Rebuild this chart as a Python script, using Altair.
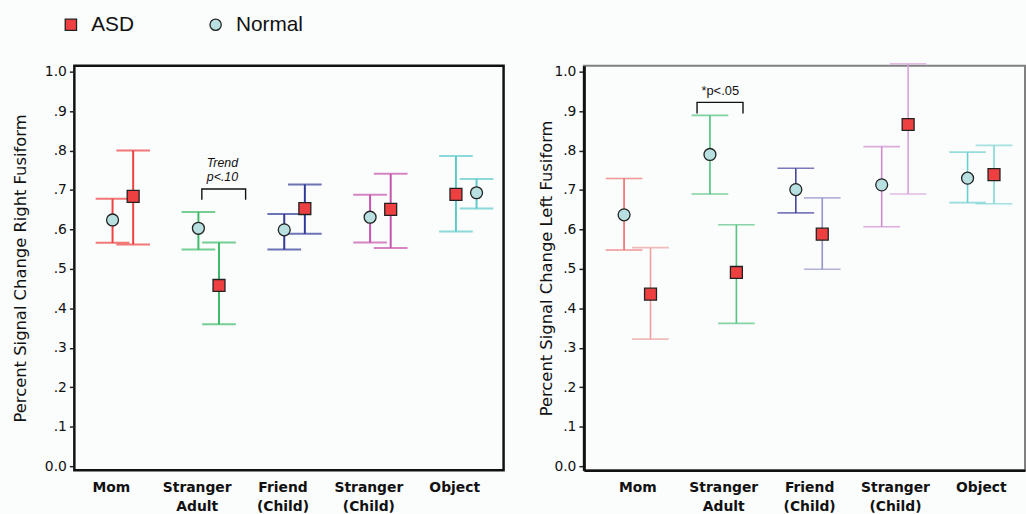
import json
import altair as alt
import pandas as pd

# ---------------- data ----------------
categories = ["Mom", "Stranger Adult", "Friend (Child)", "Stranger (Child)", "Object"]
groups = ["ASD", "Normal"]

# Right fusiform (left panel)
rf_normal_mean = [0.624, 0.603, 0.599, 0.631, 0.693]
rf_normal_hi = [0.678, 0.644, 0.639, 0.688, 0.728]
rf_normal_lo = [0.566, 0.549, 0.549, 0.567, 0.653]
rf_asd_mean = [0.684, 0.458, 0.653, 0.651, 0.689]
rf_asd_hi = [0.800, 0.567, 0.714, 0.741, 0.786]
rf_asd_lo = [0.562, 0.360, 0.589, 0.553, 0.595]
rf_first = ["Normal", "Normal", "Normal", "Normal", "ASD"]

# Left fusiform (right panel)
lf_normal_mean = [0.637, 0.790, 0.701, 0.713, 0.730]
lf_normal_hi = [0.729, 0.889, 0.755, 0.810, 0.796]
lf_normal_lo = [0.548, 0.690, 0.642, 0.607, 0.668]
lf_asd_mean = [0.436, 0.491, 0.588, 0.866, 0.739]
lf_asd_hi = [0.554, 0.612, 0.680, 1.020, 0.813]
lf_asd_lo = [0.322, 0.362, 0.499, 0.690, 0.665]
lf_first = ["Normal", "Normal", "Normal", "Normal", "Normal"]

y_ticks = [0.0, 0.1, 0.2, 0.3, 0.4, 0.5, 0.6, 0.7, 0.8, 0.9, 1.0]

# ---------------- styles ----------------
rf_colors_normal = ["#ee4040", "#3dba6a", "#2f3a98", "#c653ad", "#5ccaca"]
rf_colors_asd = ["#ee4040", "#3dba6a", "#2f3a98", "#c653ad", "#5ccaca"]
lf_colors_normal = ["#ec6a6a", "#4cbf7a", "#44449f", "#cf8acf", "#6ccfcf"]
lf_colors_asd = ["#eca0a0", "#55c383", "#9494c8", "#d8a0d8", "#80d6d6"]

BG = "#fbfcfc"
FONT = "DejaVu Sans"


def build_df(nm, nh, nl, am, ah, al, first, off1, off2, cn, ca):
    rows = []
    for i, cat in enumerate(categories):
        for g, m, h, l, c in (("Normal", nm[i], nh[i], nl[i], cn[i]),
                              ("ASD", am[i], ah[i], al[i], ca[i])):
            off = off1 if g == first[i] else off2
            rows.append(dict(cat=cat, group=g, mean=m, hi=h, lo=l,
                             xpos=i + off, color=c))
    return pd.DataFrame(rows)


rf_df = build_df(rf_normal_mean, rf_normal_hi, rf_normal_lo,
                 rf_asd_mean, rf_asd_hi, rf_asd_lo, rf_first,
                 0.02, 0.26, rf_colors_normal, rf_colors_asd)
lf_df = build_df(lf_normal_mean, lf_normal_hi, lf_normal_lo,
                 lf_asd_mean, lf_asd_hi, lf_asd_lo, lf_first,
                 -0.155, 0.153, lf_colors_normal, lf_colors_asd)

# annotations (category index, bracket span offsets, y levels, text)
rf_ann = dict(idx=1, x0=0.06, x1=0.57, ytop=0.7025, ybot=0.675,
              text="Trend\np<.10", tx=0.30, ty=0.769, italic=True, size=12.5)
lf_ann = dict(idx=1, x0=-0.305, x1=0.23, ytop=0.922, ybot=0.894,
              text="*p<.05", tx=-0.035, ty=0.95, italic=False, size=13)

label_lists = json.dumps([c.split(" ") for c in categories]).replace('"', "'")
x_label_expr = f"{label_lists}[round(datum.value)]"
y_label_expr = ("datum.value < 0.05 ? '0.0' : datum.value > 0.95 ? '1.0' : "
                "'.' + round(datum.value * 10)")

YDOM = [-0.01, 1.015]


def panel(df, ann, title, xdom, width, height, cap, lw, extent, ydomain_line):
    xs = alt.Scale(domain=xdom, nice=False, zero=False)
    ys = alt.Scale(domain=YDOM, nice=False, zero=False)
    xaxis = alt.Axis(values=list(range(len(categories))), labelExpr=x_label_expr,
                     ticks=False, domain=ydomain_line, domainColor="#111",
                     domainWidth=2.5, grid=False,
                     labelFont=FONT, labelFontWeight="bold", labelFontSize=14,
                     labelColor="#111", labelPadding=11, labelLineHeight=19,
                     labelFlush=False, labelOverlap=False, title=None)
    yaxis = alt.Axis(values=y_ticks, labelExpr=y_label_expr, grid=False,
                     domain=ydomain_line, domainColor="#111", domainWidth=3,
                     tickSize=5, tickColor="#222", tickWidth=1.5,
                     labelFont=FONT, labelFontSize=14, labelColor="#111",
                     labelPadding=3, labelFlush=False, labelOverlap=False,
                     title=title, titleFont=FONT, titleFontSize=16.5,
                     titleFontWeight="normal", titleColor="#111",
                     titlePadding=4, minExtent=extent, maxExtent=extent)
    base = alt.Chart(df)
    x = alt.X("xpos:Q", scale=xs, axis=xaxis)
    rule = base.mark_rule(strokeWidth=lw).encode(
        x=x, y=alt.Y("lo:Q", scale=ys, axis=yaxis), y2="hi:Q",
        stroke=alt.Stroke("color:N", scale=None))
    cap_hi = base.mark_tick(orient="horizontal", size=cap, thickness=lw).encode(
        x=alt.X("xpos:Q", scale=xs), y=alt.Y("hi:Q", scale=ys),
        color=alt.Color("color:N", scale=None))
    cap_lo = base.mark_tick(orient="horizontal", size=cap, thickness=lw).encode(
        x=alt.X("xpos:Q", scale=xs), y=alt.Y("lo:Q", scale=ys),
        color=alt.Color("color:N", scale=None))
    legend = alt.Legend(orient="none", legendX=-14, legendY=-52,
                        direction="horizontal", title=None, padding=0,
                        labelFont="Liberation Sans", labelFontSize=21,
                        labelColor="#111", symbolSize=130, labelOffset=10,
                        columnPadding=47, gridAlign="all",
                        symbolStrokeWidth=1.3)
    pts = base.mark_point(filled=True, size=145, strokeWidth=1.3,
                          opacity=1).encode(
        x=alt.X("xpos:Q", scale=xs), y=alt.Y("mean:Q", scale=ys),
        fill=alt.Fill("group:N", scale=alt.Scale(domain=groups,
                                                  range=["#ee4040", "#b8e0e0"]),
                      legend=legend),
        stroke=alt.Stroke("group:N", scale=alt.Scale(domain=groups,
                                                      range=["#222222", "#222222"]),
                          legend=legend),
        shape=alt.Shape("group:N", scale=alt.Scale(domain=groups,
                                                    range=["square", "circle"]),
                        legend=legend))
    i = ann["idx"]
    br = pd.DataFrame(dict(
        bx=[i + ann["x0"], i + ann["x0"], i + ann["x1"], i + ann["x1"]],
        by=[ann["ybot"], ann["ytop"], ann["ytop"], ann["ybot"]],
        o=[0, 1, 2, 3]))
    bracket = alt.Chart(br).mark_line(color="#111", strokeWidth=1.4).encode(
        x=alt.X("bx:Q", scale=xs), y=alt.Y("by:Q", scale=ys), order="o:Q")
    tdf = pd.DataFrame(dict(tx=[i + ann["tx"]], ty=[ann["ty"]], t=[ann["text"]]))
    txt = alt.Chart(tdf).mark_text(
        font="Liberation Sans", fontSize=ann["size"],
        fontStyle="italic" if ann["italic"] else "normal",
        lineBreak="\n", lineHeight=14, color="#111", baseline="middle").encode(
        x=alt.X("tx:Q", scale=xs), y=alt.Y("ty:Q", scale=ys), text="t:N")
    return alt.layer(rule, cap_hi, cap_lo, pts, bracket, txt).properties(
        width=width, height=height)


left = panel(rf_df, rf_ann, "Percent Signal Change Right Fusiform",
             [-0.425, 4.575], 433, 408, 34, 2, 42, False).properties(
    view=alt.ViewBackground(stroke="#111", strokeWidth=2.5, fill=BG))
right = panel(lf_df, lf_ann, "Percent Signal Change Left Fusiform",
              [-0.623, 4.514], 445, 408, 37, 1.6, 26, True).properties(
    view=alt.ViewBackground(stroke="#808080", strokeWidth=2, fill=BG))

chart = alt.hconcat(left, right, spacing=32).properties(
    padding={"left": 11, "top": 12, "right": 0, "bottom": 0},
    background=BG,
).configure_view(stroke=None)

chart.save("out.html", embed_options={"renderer": "svg", "actions": False})
